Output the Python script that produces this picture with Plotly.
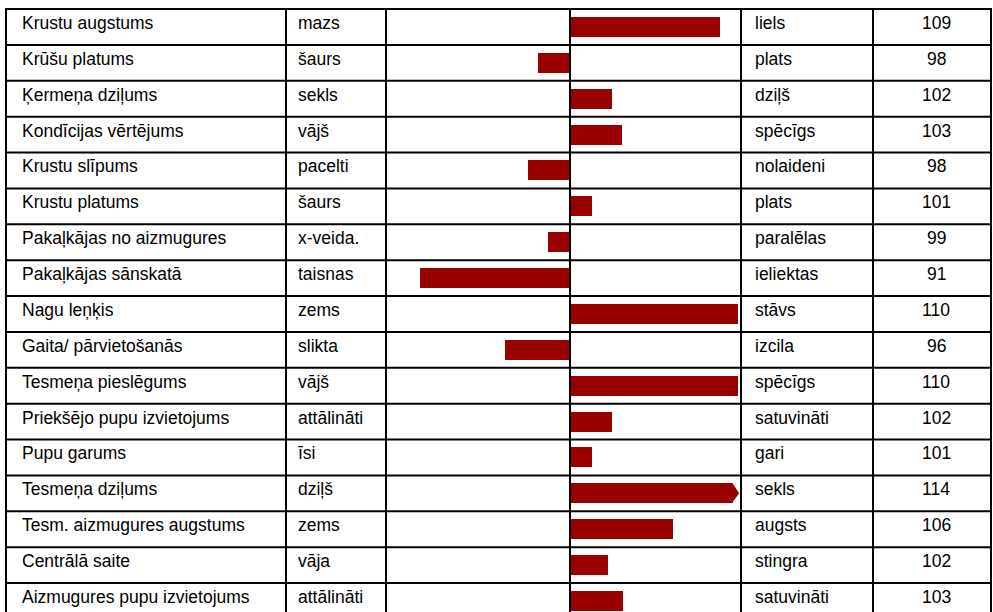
import plotly.graph_objects as go

# ---------------- data ----------------
traits = ["Krustu augstums", "Krūšu platums", "Ķermeņa dziļums", "Kondīcijas vērtējums",
          "Krustu slīpums", "Krustu platums", "Pakaļkājas no aizmugures", "Pakaļkājas sānskatā",
          "Nagu leņķis", "Gaita/ pārvietošanās", "Tesmeņa pieslēgums", "Priekšējo pupu izvietojums",
          "Pupu garums", "Tesmeņa dziļums", "Tesm. aizmugures augstums", "Centrālā saite",
          "Aizmugures pupu izvietojums"]
low_labels = ["mazs", "šaurs", "sekls", "vājš", "pacelti", "šaurs", "x-veida.", "taisnas", "zems",
              "slikta", "vājš", "attālināti", "īsi", "dziļš", "zems", "vāja", "attālināti"]
high_labels = ["liels", "plats", "dziļš", "spēcīgs", "nolaideni", "plats", "paralēlas", "ieliektas",
               "stāvs", "izcila", "spēcīgs", "satuvināti", "gari", "sekls", "augsts", "stingra",
               "satuvināti"]
values = [109, 98, 102, 103, 98, 101, 99, 91, 110, 96, 110, 102, 101, 114, 106, 102, 103]
bar_values = [109.0, 98.1, 102.5, 103.1, 97.5, 101.3, 98.7, 91.0, 110.1, 96.1, 110.1, 102.5,
              101.3, 114.0, 106.2, 102.3, 103.2]

# ---------------- layout constants ----------------
W, H = 993, 612
TOP = 9.0          # px of first horizontal rule
ROW_H = 35.875     # px per row
BASE = 100
X_MIN, X_MAX = 88.96, 110.26
CLIP = 110.15
ARROW = 0.4
BAR_W = 0.56
RED = "#990000"
FONT = dict(family="Liberation Sans, Arial, sans-serif", size=17.5, color="black")
COL_X = [6, 286, 386, 741, 873, 991]      # vertical rules (px)

n = len(traits)
rows = list(range(n))
y_top = -0.5 - TOP / ROW_H
y_bot = (H - TOP) / ROW_H - 0.5

def px(x):
    return x / W

fig = go.Figure()

clipped = [min(v, CLIP - ARROW) if v > CLIP else v for v in bar_values]
fig.add_trace(go.Bar(
    y=rows, x=[v - BASE for v in clipped], base=BASE, orientation="h",
    width=BAR_W, marker=dict(color=RED, line=dict(width=0)), showlegend=False,
    hoverinfo="skip"))

# arrow tips for values beyond axis
for r, v in zip(rows, bar_values):
    if v > CLIP:
        fig.add_trace(go.Scatter(
            x=[CLIP - ARROW - 0.05, CLIP - ARROW, CLIP, CLIP - ARROW, CLIP - ARROW - 0.05],
            y=[r - BAR_W / 2, r - BAR_W / 2, r, r + BAR_W / 2, r + BAR_W / 2],
            mode="lines", fill="toself", fillcolor=RED, line=dict(width=0, color=RED),
            showlegend=False, hoverinfo="skip"))

shapes = []
# horizontal rules
for r in range(n):
    shapes.append(dict(type="line", xref="paper", yref="y", x0=px(COL_X[0] - 1), x1=px(COL_X[-1] + 1),
                       y0=r - 0.5, y1=r - 0.5, line=dict(color="black", width=2)))
# vertical rules
for cx in COL_X:
    shapes.append(dict(type="line", xref="paper", yref="y", x0=px(cx), x1=px(cx),
                       y0=-0.5, y1=y_bot + 1, line=dict(color="black", width=2)))
# centre line
shapes.append(dict(type="line", xref="x", yref="y", x0=BASE, x1=BASE,
                   y0=-0.5, y1=y_bot + 1, line=dict(color="black", width=2)))

annotations = []
for r in rows:
    common = dict(yref="y", y=r, xref="paper", yanchor="middle", showarrow=False,
                  font=FONT, yshift=4)
    annotations.append(dict(text=traits[r], x=px(20), xanchor="left", **common))
    annotations.append(dict(text=low_labels[r], x=px(296), xanchor="left", **common))
    annotations.append(dict(text=high_labels[r], x=px(753), xanchor="left", **common))
    annotations.append(dict(text=str(values[r]), x=px(936), xanchor="center", **common))

fig.update_layout(
    width=W, height=H, margin=dict(l=0, r=0, t=0, b=0),
    paper_bgcolor="white", plot_bgcolor="rgba(0,0,0,0)",
    xaxis=dict(domain=[px(COL_X[2]), px(COL_X[3])], range=[X_MIN, X_MAX], visible=False,
               fixedrange=True),
    yaxis=dict(domain=[0, 1], range=[y_bot, y_top], visible=False, fixedrange=True),
    shapes=shapes, annotations=annotations, bargap=0, showlegend=False,
)

fig.write_html("out.html", config=dict(displayModeBar=False),
               post_script="document.body.style.margin='0';document.body.style.padding='0';"
                           "document.body.style.overflow='hidden';")
